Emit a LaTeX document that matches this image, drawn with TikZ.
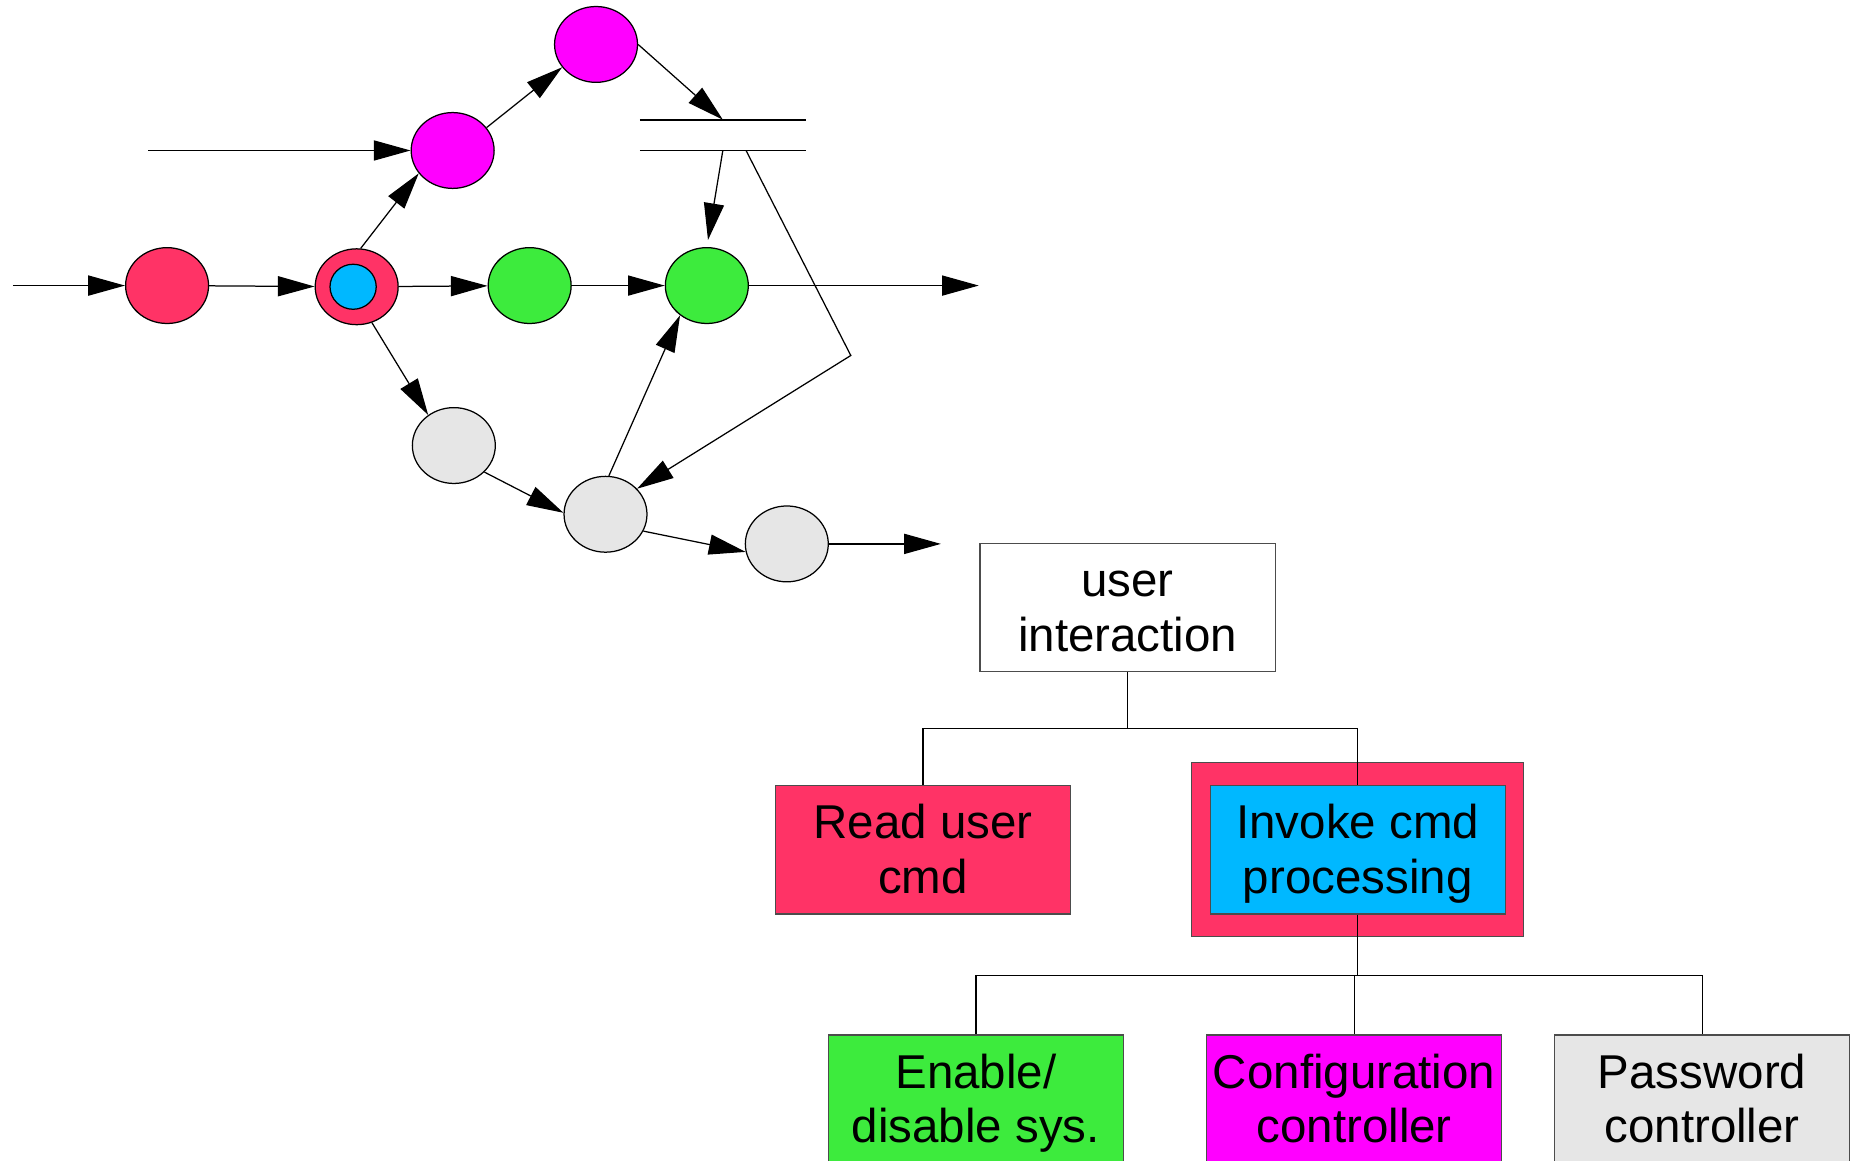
\documentclass[tikz,border=0pt]{standalone}
\usepackage{fontspec}
\setmainfont{Liberation Sans}
\usetikzlibrary{arrows.meta,shapes.geometric}

\definecolor{rosered}{HTML}{FF3366}
\definecolor{skyblue}{HTML}{00B8FF}
\definecolor{leafgreen}{HTML}{3DEB3D}
\definecolor{vivid}{RGB}{255,0,255}
\definecolor{pebble}{HTML}{E6E6E6}

% line box of the block texts
\newcommand\linestrut{\rule[-0.212em]{0pt}{1.117em}}

\begin{document}
\begin{tikzpicture}[
    state/.style={draw, ellipse, line width=0.3pt, minimum width=0.70cm, minimum height=0.64cm, inner sep=0pt},
    flow/.style={line width=0.3pt, -{Triangle[length=3.1mm,width=1.7mm]}},
    block/.style={draw=black!70, line width=0.3pt, minimum width=2.49cm, minimum height=1.085cm,
        inner sep=0pt, align=center, font=\fontsize{11.4}{13.1}\selectfont},
    tree/.style={line width=0.3pt}
]
    \useasboundingbox (0,0) rectangle (15.68,-9.79);
    \clip (0,0) rectangle (15.68,-9.79);

    % states of the flow
    \node[state, fill=rosered] (r1) at (1.41,-2.41) {};
    \node[state, fill=rosered] (r2) at (3.01,-2.42) {};
    \node[state, fill=skyblue, minimum width=0.39cm, minimum height=0.38cm] (r2in) at (2.98,-2.42) {};
    \node[state, fill=leafgreen] (g1) at (4.47,-2.41) {};
    \node[state, fill=leafgreen] (g2) at (5.965,-2.41) {};
    \node[state, fill=vivid] (m1) at (3.82,-1.27) {};
    \node[state, fill=vivid] (m2) at (5.03,-0.375) {};
    \node[state, fill=pebble] (e1) at (3.83,-3.76) {};
    \node[state, fill=pebble] (e2) at (5.11,-4.34) {};
    \node[state, fill=pebble] (e3) at (6.64,-4.59) {};

    \coordinate (src) at (0.108,-2.41);
    \coordinate (sink) at (8.26,-2.41);
    \coordinate (feed) at (1.25,-1.27);
    \coordinate (drain) at (7.94,-4.59);
    \coordinate (storein) at (6.10,-1.01);
    \coordinate (storeout) at (6.10,-1.27);
    \coordinate (storeback) at (6.296,-1.27);
    \coordinate (bend) at (7.18,-3.00);

    % store
    \draw[line width=0.4pt] (5.40,-1.01) -- (6.80,-1.01);
    \draw[line width=0.4pt] (5.40,-1.27) -- (6.80,-1.27);

    \draw[flow] (src) -- (r1);
    \draw[flow] (r1) -- (r2);
    \draw[flow] (r2) -- (g1);
    \draw[flow] (g1) -- (g2);
    \draw[flow] (g2) -- (sink);
    \draw[flow] (feed) -- (m1);
    \draw[flow] (r2.84) -- (m1.214);
    \draw[flow] (m1.34) -- (m2.214);
    \draw[flow] (m2.east) -- (storein);
    \draw[flow, shorten >=0.6mm] (storeout) -- (g2.north);
    \draw[flow] (r2.293) -- (e1.130);
    \draw[flow] (e1.319) -- (e2.178);
    \draw[flow] (e2.336) -- (e3.191);
    \draw[flow] (e3) -- (drain);
    \draw[flow] (e2.85) -- (g2.228);
    \draw[flow] (storeback) -- (bend) -- (e2.39);

    % module tree
    \node[block, fill=white] (top) at (9.516,-5.1275) {user\linestrut\\interaction\linestrut};
    \node[block, fill=rosered] (read) at (7.79,-7.17) {Read user\linestrut\\cmd\linestrut};
    \node[draw=black!70, line width=0.3pt, fill=rosered, minimum width=2.806cm, minimum height=1.472cm,
        inner sep=0pt] (frame) at (11.457,-7.168) {};
    \node[block, fill=skyblue] (invoke) at (11.4575,-7.1715) {Invoke cmd\linestrut\\processing\linestrut};
    \node[block, fill=leafgreen] (enable) at (8.236,-9.2765) {Enable/\linestrut\\disable sys.\linestrut};
    \node[block, fill=vivid] (config) at (11.428,-9.2765) {Configuration\linestrut\\controller\linestrut};
    \node[block, fill=pebble] (passwd) at (14.3645,-9.2765) {Password\linestrut\\controller\linestrut};

    \draw[tree] (top.south) -- ++(0,-0.475) coordinate (split) -| (read.north);
    \draw[tree] (split) -| (invoke.north);
    \draw[tree] (invoke.south) -- ++(0,-0.512) coordinate (fork) -| (enable.north);
    \draw[tree] (fork) -| (config.north);
    \draw[tree] (fork) -| (passwd.north);
\end{tikzpicture}
\end{document}
